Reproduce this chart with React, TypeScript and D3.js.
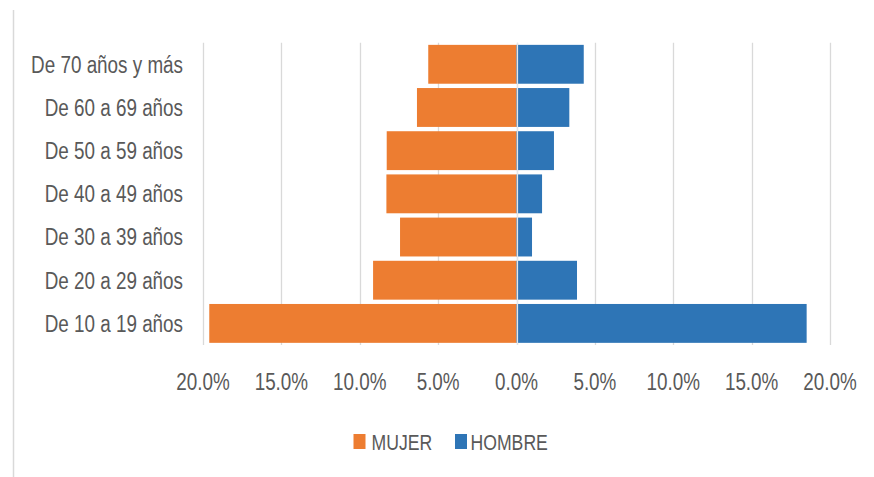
import React from "react";
import * as d3 from "d3";

const categories = [
  "De 70 años y más",
  "De 60 a 69 años",
  "De 50 a 59 años",
  "De 40 a 49 años",
  "De 30 a 39 años",
  "De 20 a 29 años",
  "De 10 a 19 años",
];
const mujer = [5.63, 6.35, 8.28, 8.3, 7.43, 9.15, 19.6];
const hombre = [4.29, 3.37, 2.39, 1.63, 0.99, 3.86, 18.51];
const ticks = [-20, -15, -10, -5, 0, 5, 10, 15, 20];
const seriesNames = ["MUJER", "HOMBRE"];

const W = 874;
const H = 477;
const FONT = "'Liberation Sans', Arial, sans-serif";
const TEXT = "#595959";
const GRID = "#d9d9d9";
const ORANGE = "#ED7D31";
const BLUE = "#2E75B6";
const SX = 0.82;

function NText(props: {
  x: number;
  y: number;
  size: number;
  anchor?: "start" | "middle" | "end";
  children: React.ReactNode;
}) {
  return (
    <g transform={`translate(${props.x},${props.y}) scale(${SX},1)`}>
      <text
        x={0}
        y={0}
        textAnchor={props.anchor || "start"}
        fontSize={props.size}
        fill={TEXT}
      >
        {props.children}
      </text>
    </g>
  );
}

export default function App() {
  const x = d3.scaleLinear().domain([-20, 20]).range([203, 830]);
  const y = d3
    .scaleBand<string>()
    .domain(categories)
    .range([42.7, 345])
    .paddingInner(0.1)
    .paddingOuter(0.05);
  const bw = y.bandwidth();

  return (
    <svg
      width={W}
      height={H}
      style={{ position: "absolute", left: 0, top: 0, background: "#fff" }}
      fontFamily={FONT}
    >
      <rect x={0} y={0} width={W} height={H} fill="#fff" />
      <line x1={13.5} x2={13.5} y1={10} y2={H} stroke={GRID} strokeWidth={1.5} />
      {ticks.map((t) => (
        <line
          key={"g" + t}
          x1={Math.round(x(t)) + 0.5}
          x2={Math.round(x(t)) + 0.5}
          y1={42.7}
          y2={345}
          stroke={GRID}
          strokeWidth={1.3}
        />
      ))}
      {categories.map((c, i) => (
        <g key={c}>
          <rect
            x={x(-mujer[i])}
            y={y(c)}
            width={x(0) - x(-mujer[i])}
            height={bw}
            fill={ORANGE}
          />
          <rect
            x={x(0)}
            y={y(c)}
            width={x(hombre[i]) - x(0)}
            height={bw}
            fill={BLUE}
          />
          <NText x={183} y={(y(c) as number) + bw / 2 + 8.4} size={23} anchor="end">
            {c}
          </NText>
        </g>
      ))}
      <line
        x1={Math.round(x(0)) + 0.5}
        x2={Math.round(x(0)) + 0.5}
        y1={42.7}
        y2={345}
        stroke="#e6e6e6"
        strokeWidth={1.2}
      />
      {ticks.map((t) => (
        <NText key={"t" + t} x={x(t)} y={389.5} size={23} anchor="middle">
          {d3.format(".1f")(Math.abs(t)) + "%"}
        </NText>
      ))}
      <g>
        <rect x={353.5} y={434} width={12} height={15} fill={ORANGE} />
        <NText x={371.5} y={449.5} size={21.5}>
          {seriesNames[0]}
        </NText>
        <rect x={455} y={434} width={12} height={15} fill={BLUE} />
        <NText x={470.5} y={449.5} size={21.5}>
          {seriesNames[1]}
        </NText>
      </g>
    </svg>
  );
}
